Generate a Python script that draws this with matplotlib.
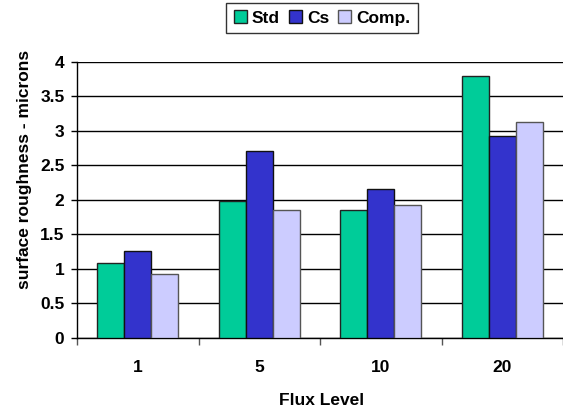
import matplotlib
matplotlib.use("Agg")
import matplotlib.pyplot as plt
import numpy as np

categories = ["1", "5", "10", "20"]
series_names = ["Std", "Cs", "Comp."]
std_vals = [1.09, 1.99, 1.85, 3.80]
cs_vals = [1.26, 2.70, 2.15, 2.93]
comp_vals = [0.93, 1.86, 1.92, 3.12]
yticks = [0, 0.5, 1, 1.5, 2, 2.5, 3, 3.5, 4]
ytick_labels = ["0", "0.5", "1", "1.5", "2", "2.5", "3", "3.5", "4"]

colors = ["#00CC99", "#3333CC", "#CCCCFF"]
edges = ["#222222", "#111111", "#555555"]

plt.rcParams['font.family'] = ['Liberation Sans', 'DejaVu Sans']
FS = 12.5

fig = plt.figure(figsize=(5.63, 4.15), dpi=100)
W, H = 563, 415
ax = fig.add_axes([77/W, (H-338)/H, (563-77)/W, (338-61.7)/H])

x = np.arange(len(categories))
bw = 0.222
for i, (vals, c, e, name) in enumerate(zip([std_vals, cs_vals, comp_vals], colors, edges, series_names)):
    ax.bar(x + (i-1)*bw, vals, width=bw, color=c, edgecolor=e, linewidth=1.0, label=name, zorder=3)

ax.set_xlim(-0.5, len(categories)-0.5)
ax.set_ylim(0, 4)
ax.set_yticks(yticks)
ax.set_yticklabels(ytick_labels, fontsize=FS, fontweight='bold')
ax.yaxis.grid(True, color='black', linewidth=1.0, zorder=0)
ax.set_axisbelow(True)
ax.set_xticks(x)
ax.set_xticklabels(categories, fontsize=FS, fontweight='bold')
ax.tick_params(axis='x', length=0, pad=16)
ax.set_xticks(np.arange(len(categories)+1)-0.5, minor=True)
ax.tick_params(axis='x', which='minor', length=5, width=1, color='#555555')
ax.tick_params(axis='y', length=4, width=1, pad=5)
for s in ['top', 'right']:
    ax.spines[s].set_visible(False)
ax.spines['left'].set_linewidth(1.0)
ax.spines['bottom'].set_linewidth(1.0)

ax.set_xlabel("Flux Level", fontsize=FS, fontweight='bold')
ax.xaxis.set_label_coords((322-77)/(563-77), -(400-338)/(338-61.7))
ax.xaxis.label.set_va('center')
ax.set_ylabel("surface roughness - microns", fontsize=FS, fontweight='bold')
ax.yaxis.set_label_coords(-(77-25)/(563-77), (338-169)/(338-61.7))
ax.yaxis.label.set_va('center')

leg = fig.legend(loc='upper center', bbox_to_anchor=(322/W, 1-3/H), ncol=3,
                 prop={'weight': 'bold', 'size': FS}, frameon=True, fancybox=False,
                 edgecolor='black', handlelength=0.75, handleheight=0.75,
                 handletextpad=0.3, columnspacing=0.5, borderpad=0.42,
                 borderaxespad=0)
leg.get_frame().set_linewidth(1.0)

fig.savefig("out.png", dpi=100)
